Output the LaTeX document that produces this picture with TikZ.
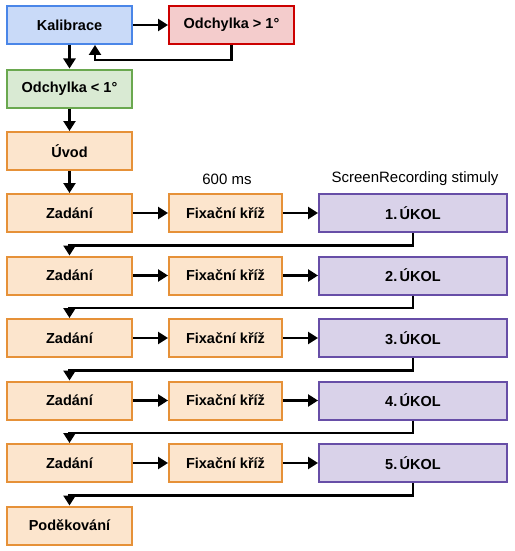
\documentclass[tikz,border=0pt]{standalone}
\usepackage{fontspec}
\setmainfont{Liberation Sans}
\usetikzlibrary{arrows.meta}
\definecolor{bfill}{HTML}{C9DAF8}\definecolor{bdraw}{HTML}{4A86E8}
\definecolor{rfill}{HTML}{F4CCCC}\definecolor{rdraw}{HTML}{CC0000}
\definecolor{gfill}{HTML}{D9EAD3}\definecolor{gdraw}{HTML}{6AA84F}
\definecolor{ofill}{HTML}{FCE5CD}\definecolor{odraw}{HTML}{E69138}
\definecolor{pfill}{HTML}{D9D2E9}\definecolor{pdraw}{HTML}{674EA7}
\begin{document}
\begin{tikzpicture}[x=1pt,y=-1pt,
  box/.style={draw, line width=2pt, minimum height=38pt, minimum width=125pt, inner sep=0pt,
    font=\fontsize{14.5}{17}\selectfont\bfseries},
  bluebox/.style={box, fill=bfill, draw=bdraw},
  redbox/.style={box, fill=rfill, draw=rdraw},
  greenbox/.style={box, fill=gfill, draw=gdraw},
  orangebox/.style={box, fill=ofill, draw=odraw},
  fixbox/.style={orangebox, minimum width=113pt},
  taskbox/.style={box, fill=pfill, draw=pdraw, minimum width=188pt},
  lbl/.style={font=\fontsize{15}{18}\selectfont, inner sep=0pt},
  conn/.style={line width=2.3pt, -{Triangle[length=10pt,width=12pt]}}]
\useasboundingbox (0,0) rectangle (514,551);
\fill[white] (0,0) rectangle (514,551);
\node[bluebox] (kal) at (69.5,25) {Kalibrace};
\node[redbox] (odg) at (231.5,25) {Odchylka > 1°};
\node[greenbox] (odl) at (69.5,88.5) {Odchylka < 1°};
\node[orangebox] (uvod) at (69.5,151) {Úvod};
\node[lbl] (l600) at (227,179) {600 ms};
\node[lbl] (lscr) at (415,179) {ScreenRecording stimuly};
\foreach \i/\y in {1/213,2/275.5,3/338,4/400.5,5/463}{
  \node[orangebox] (z\i) at (69.5,\y) {Zadání};
  \node[fixbox] (f\i) at (225.5,\y) {Fixační kříž};
  \node[taskbox] (u\i) at (413,\y) {\i.\,ÚKOL};
  \draw[conn] (z\i) -- (f\i);
  \draw[conn] (f\i) -- (u\i);
}
\node[orangebox] (pod) at (69.5,525.5) {Poděkování};
\draw[conn] (kal) -- (odg);
\draw[conn] (kal) -- (odl);
\draw[conn] (odg.south) -- ++(0,15) -| ([xshift=25.5pt]kal.south);
\draw[conn] (odl) -- (uvod);
\draw[conn] (uvod) -- (z1);
\foreach \i/\j in {1/2,2/3,3/4,4/5}{
  \draw[conn] (u\i.south) -- ++(0,12.5) -| (z\j.north);
}
\draw[conn] (u5.south) -- ++(0,12.5) -| (pod.north);
\end{tikzpicture}
\end{document}
